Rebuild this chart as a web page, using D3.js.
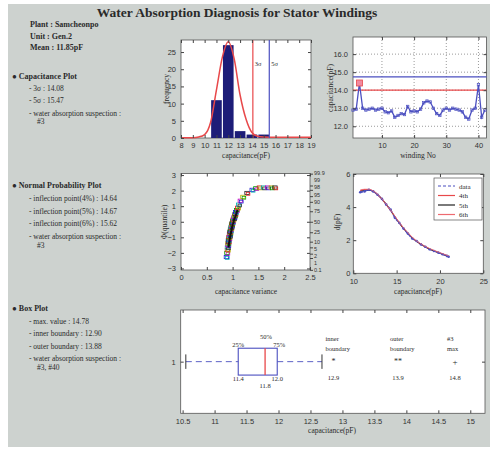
<!DOCTYPE html>
<html>
<head>
<meta charset="utf-8">
<script src="https://cdn.jsdelivr.net/npm/d3@7"></script>
<style>
  body { margin: 0; background: #fff; }
  svg text { font-family: "Liberation Serif", "DejaVu Serif", serif; fill: #2a2a2a; }
  .ax text { font-family: "Liberation Sans", Arial, sans-serif; font-size: 7.5px; fill: #333; }
  .ax path, .ax line { stroke: #444; }
  .pl { font-family: "Liberation Sans", Arial, sans-serif; font-size: 5.5px; fill: #333; }
</style>
</head>
<body>
<svg id="chart" width="496" height="450"></svg>
<script>
// histogram (capacitance plot)
const histCenters = [11, 12, 13, 14, 15];
const histCounts = [11, 27, 2, 1, 1];
const fitX = [8, 9, 9.5, 10, 10.5, 11, 11.5, 12, 12.5, 13, 13.5, 14, 14.5, 15, 16, 17, 18, 19];
const fitY = [0.1, 0.1, 0.3, 1, 4.5, 14, 23.5, 28, 23, 12.5, 5.5, 1.6, 0.5, 0.3, 0.2, 0.2, 0.2, 0.2];
const sigma3 = 14.08, sigma5 = 15.47;

// trend (winding No)
const windingNo = d3.range(1, 43);
const windingCap = [12.9, 12.95, 14.4, 13.0, 12.9, 12.95, 13.0, 12.9, 12.95, 13.0,
  12.8, 12.75, 12.85, 12.5, 12.6, 12.7, 12.65, 13.1, 12.8, 12.85,
  12.8, 12.95, 13.3, 13.4, 13.35, 13.0, 12.7, 12.6, 12.9, 13.0,
  12.9, 13.0, 12.95, 12.9, 12.8, 12.5, 12.4, 12.9, 13.0, 14.3, 12.5, 12.9];
const trendRed = 14.0, trendBlue = 14.74;
const trendTicks = [12, 13, 14, 15, 16];

// normal probability plot
const nppX = [0.88, 0.89, 0.90, 0.90, 0.91, 0.91, 0.92, 0.92, 0.93, 0.93, 0.94, 0.94, 0.95, 0.95,
  0.96, 0.96, 0.97, 0.97, 0.98, 0.98, 0.99, 1.00, 1.00, 1.01, 1.02, 1.03, 1.04, 1.05,
  1.06, 1.08, 1.10, 1.12, 1.15, 1.20, 1.28, 1.38, 1.45, 1.52, 1.60, 1.68, 1.75, 1.82];
const nppZ = [-2.27, -2.0, -1.8, -1.65, -1.5, -1.38, -1.27, -1.17, -1.07, -0.98, -0.9, -0.8, -0.72, -0.64,
  -0.56, -0.48, -0.4, -0.33, -0.25, -0.17, -0.1, -0.02, 0.06, 0.14, 0.22, 0.3, 0.4, 0.5,
  0.62, 0.75, 0.9, 1.1, 1.35, 1.6, 1.85, 2.05, 2.15, 2.2, 2.2, 2.2, 2.2, 2.2];
const probZ = [3.09, 2.33, 2.05, 1.645, 1.28, 0.674, 0, -0.674, -1.28, -1.645, -2.05, -2.33, -3.09];
const probLabels = ["99.9", "99", "98", "95", "90", "75", "50", "25", "10", "5", "2", "1", "0.1"];

// d vs capacitance
const dX = [10.8, 11.3, 11.8, 12.3, 12.8, 13.3, 13.8, 14.3, 14.8, 15.3, 15.8, 16.3, 16.8, 17.3, 17.8, 18.3, 18.8, 19.3, 19.8, 20.3, 20.8, 21.0];
const dData = [4.9, 4.95, 5.05, 4.95, 4.75, 4.5, 4.15, 3.85, 3.35, 3.05, 2.7, 2.4, 2.1, 1.95, 1.75, 1.6, 1.45, 1.35, 1.25, 1.15, 1.05, 1.0];
const d4th = [5.0, 5.05, 5.05, 4.95, 4.75, 4.48, 4.15, 3.8, 3.42, 3.05, 2.72, 2.42, 2.15, 1.93, 1.75, 1.6, 1.47, 1.36, 1.26, 1.16, 1.06, 1.02];
const d5th = [4.95, 5.0, 5.02, 4.95, 4.76, 4.5, 4.17, 3.82, 3.4, 3.05, 2.7, 2.41, 2.14, 1.93, 1.75, 1.6, 1.46, 1.35, 1.25, 1.15, 1.05, 1.0];
const dLegend = ["data", "4th", "5th", "6th"];

// box plot
const boxQ1 = 11.37, boxMed = 11.79, boxQ3 = 11.98;
const whiskerLo = 10.55, whiskerHi = 12.68;
const innerB = 12.86, outerB = 13.87, maxVal = 14.76;

// text blocks
const headerLines = ["Plant : Samcheonpo", "Unit : Gen.2", "Mean : 11.85pF"];
const capLines = ["- 3\u03c3 : 14.08", "- 5\u03c3 : 15.47", "- water absorption suspection :", "#3"];
const nppLines = ["- inflection point(4%) : 14.64", "- inflection point(5%) : 14.67", "- inflection point(6%) : 15.62", "- water absorption suspection :", "#3"];
const boxLines = ["- max. value : 14.78", "- inner boundary : 12.90", "- outer boundary : 13.88", "- water absorption suspection :", "#3, #40"];

const svg = d3.select("#chart");
const red = "#e8484a", blue = "#4b4fc0", navy = "#1d1d78";

svg.append("rect").attr("x", 8).attr("y", 4).attr("width", 482).attr("height", 443).attr("fill", "#cdd2cf");

svg.append("text").attr("x", 237).attr("y", 17).attr("text-anchor", "middle")
  .attr("font-size", 13.5).attr("font-weight", "bold").text("Water Absorption Diagnosis for Stator Windings");

headerLines.forEach((t, i) => svg.append("text").attr("x", 30).attr("y", 27 + i * 11.5)
  .attr("font-size", 8).attr("font-weight", "bold").text(t));

function block(title, lines, y0, dy) {
  svg.append("text").attr("x", 12).attr("y", y0).attr("font-size", 8).attr("font-weight", "bold").text("\u25cf " + title);
  lines.forEach((t, i) => {
    const last = i === lines.length - 1;
    svg.append("text").attr("x", last ? 37 : 29).attr("y", y0 + dy * (i + 1) - (last ? dy * 0.3 : 0))
      .attr("font-size", 7.5).text(t);
  });
}
block("Capacitance Plot", capLines, 79, 12.2);
block("Normal Probability Plot", nppLines, 188, 12.8);
block("Box Plot", boxLines, 311, 12.5);

// MATLAB-style axes box with inward ticks on all sides
function frame(x0, y0, x1, y1, xd, yd) {
  const x = d3.scaleLinear().domain(xd).range([x0, x1]);
  const y = d3.scaleLinear().domain(yd).range([y1, y0]);
  svg.append("rect").attr("x", x0).attr("y", y0).attr("width", x1 - x0).attr("height", y1 - y0)
    .attr("fill", "#fff").attr("stroke", "#555").attr("stroke-width", 0.8);
  return { x, y, x0, y0, x1, y1 };
}
function axes(p, xt, yt, xf, yf, ypad) {
  const g = svg.append("g").attr("class", "ax");
  g.append("g").attr("transform", `translate(0,${p.y1})`)
    .call(d3.axisBottom(p.x).tickValues(xt).tickFormat(xf).tickSizeInner(-3).tickSizeOuter(0).tickPadding(5));
  g.append("g").attr("transform", `translate(0,${p.y0})`)
    .call(d3.axisTop(p.x).tickValues(xt).tickFormat("").tickSizeInner(-3).tickSizeOuter(0));
  g.append("g").attr("transform", `translate(${p.x0},0)`)
    .call(d3.axisLeft(p.y).tickValues(yt).tickFormat(yf).tickSizeInner(-3).tickSizeOuter(0).tickPadding(ypad || 5));
  g.append("g").attr("transform", `translate(${p.x1},0)`)
    .call(d3.axisRight(p.y).tickValues(yt).tickFormat("").tickSizeInner(-3).tickSizeOuter(0));
  g.selectAll(".domain").remove();
  return g;
}
function label(x, y, t, rot) {
  const el = svg.append("text").attr("font-family", "Liberation Sans, Arial, sans-serif")
    .attr("font-size", 7.5).attr("text-anchor", "middle").attr("fill", "#333").text(t);
  if (rot) el.attr("transform", `translate(${x},${y}) rotate(-90)`);
  else el.attr("x", x).attr("y", y);
}

// ---- histogram ----
const h = frame(181, 40, 311, 138, [8, 19], [0, 28.5]);
svg.append("g").selectAll("rect").data(histCenters).join("rect")
  .attr("x", (d) => h.x(d - 0.45)).attr("width", h.x(8.9) - h.x(8))
  .attr("y", (d, i) => h.y(histCounts[i])).attr("height", (d, i) => h.y(0) - h.y(histCounts[i]))
  .attr("fill", navy);
svg.append("path").datum(fitX.map((d, i) => [d, fitY[i]]))
  .attr("d", d3.line().curve(d3.curveMonotoneX).x((d) => h.x(d[0])).y((d) => h.y(d[1])))
  .attr("fill", "none").attr("stroke", red).attr("stroke-width", 1.5);
[[sigma3, red], [sigma5, blue]].forEach(([v, c]) => svg.append("line")
  .attr("x1", h.x(v)).attr("x2", h.x(v)).attr("y1", h.y0).attr("y2", h.y1).attr("stroke", c).attr("stroke-width", 1.2));
svg.append("text").attr("x", h.x(sigma3) + 2).attr("y", 66).attr("font-size", 6.5).text("3\u03c3");
svg.append("text").attr("x", h.x(sigma5) + 2).attr("y", 66).attr("font-size", 6.5).text("5\u03c3");
axes(h, d3.range(8, 20), [0, 5, 10, 15, 20, 25], d3.format("d"), d3.format("d"));
label(246, 158, "capacitance(pF)");
label(169, 89, "frequency", true);

// ---- trend ----
const t = frame(353, 37, 486.5, 138, [1, 42.5], [11.35, 16.95]);
const grid = svg.append("g").attr("stroke", "#555").attr("stroke-width", 0.6).attr("stroke-dasharray", "1,2");
trendTicks.forEach((v) => grid.append("line").attr("x1", t.x0).attr("x2", t.x1).attr("y1", t.y(v)).attr("y2", t.y(v)));
[10, 20, 30, 40].forEach((v) => grid.append("line").attr("x1", t.x(v)).attr("x2", t.x(v)).attr("y1", t.y0).attr("y2", t.y1));
svg.append("line").attr("x1", t.x0).attr("x2", t.x1).attr("y1", t.y(trendBlue)).attr("y2", t.y(trendBlue)).attr("stroke", blue).attr("stroke-width", 1.2);
svg.append("line").attr("x1", t.x0).attr("x2", t.x1).attr("y1", t.y(trendRed)).attr("y2", t.y(trendRed)).attr("stroke", red).attr("stroke-width", 1.2);
svg.append("path").datum(windingNo.map((d, i) => [d, windingCap[i]]))
  .attr("d", d3.line().x((d) => t.x(d[0])).y((d) => t.y(d[1])))
  .attr("fill", "none").attr("stroke", blue).attr("stroke-width", 1.3);
svg.append("g").selectAll("rect").data(windingNo).join("rect")
  .attr("x", (d) => t.x(d) - 1.2).attr("y", (d, i) => t.y(windingCap[i]) - 1.2)
  .attr("width", 2.4).attr("height", 2.4).attr("fill", "none").attr("stroke", blue).attr("stroke-width", 0.7);
svg.append("rect").attr("x", t.x(3) - 3).attr("y", t.y(windingCap[2]) - 3).attr("width", 6).attr("height", 6)
  .attr("fill", "#f08aa0").attr("stroke", red).attr("stroke-width", 0.8);
axes(t, [10, 20, 30, 40], trendTicks, d3.format("d"), d3.format(".1f"));
label(418, 158, "winding No");
label(333, 88, "capacitance(pF)", true);

// ---- normal probability ----
const n = frame(181, 173.5, 310, 270, [0, 2.5], [-3.1, 3.1]);
const mColors = ["#2020d0", "#00a000", "#e02020", "#00b0b0", "#c000c0", "#b0b000", "#202020"];
const ng = svg.append("g");
nppX.forEach((v, i) => {
  const c = mColors[i % mColors.length];
  ng.append("rect").attr("x", n.x(v) - 2.2).attr("y", n.y(nppZ[i]) - 1.6).attr("width", 4.4).attr("height", 3.2)
    .attr("fill", "none").attr("stroke", c).attr("stroke-width", 0.8);
  ng.append("rect").attr("x", n.x(v + 0.02) - 1.8).attr("y", n.y(nppZ[i] - 0.06) - 1.4).attr("width", 3.6).attr("height", 2.8)
    .attr("fill", "none").attr("stroke", mColors[(i + 3) % mColors.length]).attr("stroke-width", 0.7);
});
svg.append("path").datum(nppX.slice(3, 30).map((d, i) => [d, nppZ[i + 3]]))
  .attr("d", d3.line().x((d) => n.x(d[0]) + 1).y((d) => n.y(d[1])))
  .attr("fill", "none").attr("stroke", "#111").attr("stroke-width", 2);
axes(n, [0, 0.5, 1, 1.5, 2, 2.5], [-3, -2, -1, 0, 1, 2, 3], d3.format("~g"), d3.format("d"));
// probability ticks on the right; labels nudged apart where they crowd
svg.append("g").attr("class", "ax").attr("transform", `translate(${n.x1},0)`)
  .call(d3.axisRight(n.y).tickValues(probZ).tickFormat("").tickSizeInner(3).tickSizeOuter(0))
  .select(".domain").remove();
const probPos = probZ.map((z) => n.y(z));
const mid = probPos.indexOf(n.y(0));
for (let i = mid - 1; i >= 0; i--) probPos[i] = Math.min(probPos[i], probPos[i + 1] - 7.2);
for (let i = mid + 1; i < probPos.length; i++) probPos[i] = Math.max(probPos[i], probPos[i - 1] + 7.2);
svg.append("g").selectAll("text").data(probLabels).join("text").attr("class", "pl")
  .attr("x", n.x1 + 4).attr("y", (d, i) => probPos[i] + 2).text((d) => d);
label(246, 294, "capacitance variance");
label(167, 222, "\u03a6(quantile)", true);

// ---- d vs capacitance ----
const dp = frame(353.3, 174, 483.3, 273.3, [10, 25], [0, 6]);
const lineD = (arr) => d3.line().curve(d3.curveMonotoneX).x((d, i) => dp.x(dX[i])).y((d) => dp.y(d))(arr);
svg.append("path").attr("d", lineD(d4th)).attr("fill", "none").attr("stroke", red).attr("stroke-width", 1.2);
svg.append("path").attr("d", lineD(d5th)).attr("fill", "none").attr("stroke", "#222").attr("stroke-width", 1);
svg.append("path").attr("d", lineD(dData)).attr("fill", "none").attr("stroke", blue).attr("stroke-width", 1.4).attr("stroke-dasharray", "3,2");
svg.append("g").selectAll("circle").data(dData).join("circle")
  .attr("cx", (d, i) => dp.x(dX[i])).attr("cy", (d) => dp.y(d)).attr("r", 1.3).attr("fill", blue);
svg.append("path").attr("d", lineD(d4th.map((v) => v + 0.03))).attr("fill", "none").attr("stroke", "#ee6a70").attr("stroke-width", 1).attr("opacity", 0.8);
axes(dp, [10, 15, 20, 25], [0, 2, 4, 6], d3.format("d"), d3.format("d"), 3);
label(418, 294, "capacitance(pF)");
label(340, 222, "d(pF)", true);
const lg = svg.append("g");
lg.append("rect").attr("x", 434).attr("y", 178).attr("width", 48).attr("height", 42).attr("fill", "#fff").attr("stroke", "#555").attr("stroke-width", 0.7);
const lgStyles = [[blue, "3,2"], [red, null], ["#222", null], ["#ee6a70", null]];
dLegend.forEach((s, i) => {
  const yy = 186 + i * 9.5;
  lg.append("line").attr("x1", 438).attr("x2", 455).attr("y1", yy).attr("y2", yy)
    .attr("stroke", lgStyles[i][0]).attr("stroke-width", 1.2).attr("stroke-dasharray", lgStyles[i][1]);
  lg.append("text").attr("x", 459).attr("y", yy + 2.5).attr("font-size", 7).text(s);
});

// ---- box plot ----
const b = frame(180.7, 310, 485, 413.3, [10.47, 15.23], [0.5, 1.5]);
const bx = svg.append("g");
bx.append("line").attr("x1", b.x(whiskerLo)).attr("x2", b.x(boxQ1)).attr("y1", b.y(1)).attr("y2", b.y(1))
  .attr("stroke", blue).attr("stroke-dasharray", "6,4").attr("stroke-width", 0.9);
bx.append("line").attr("x1", b.x(boxQ3)).attr("x2", b.x(whiskerHi)).attr("y1", b.y(1)).attr("y2", b.y(1))
  .attr("stroke", blue).attr("stroke-dasharray", "6,4").attr("stroke-width", 0.9);
bx.append("line").attr("x1", b.x(whiskerLo)).attr("x2", b.x(whiskerLo)).attr("y1", b.y(1.07)).attr("y2", b.y(0.93)).attr("stroke", "#333");
bx.append("line").attr("x1", b.x(whiskerHi)).attr("x2", b.x(whiskerHi)).attr("y1", b.y(1.07)).attr("y2", b.y(0.93)).attr("stroke", "#333");
bx.append("rect").attr("x", b.x(boxQ1)).attr("y", b.y(1.13)).attr("width", b.x(boxQ3) - b.x(boxQ1)).attr("height", b.y(0.87) - b.y(1.13))
  .attr("fill", "none").attr("stroke", blue).attr("stroke-width", 1.1);
bx.append("line").attr("x1", b.x(boxMed)).attr("x2", b.x(boxMed)).attr("y1", b.y(1.13)).attr("y2", b.y(0.87)).attr("stroke", red).attr("stroke-width", 1.3);
const smallT = (x, y, s, anchor) => bx.append("text").attr("x", x).attr("y", y).attr("font-size", 6.5).attr("text-anchor", anchor || "middle").text(s);
smallT(b.x(boxQ1), 347, "25%");
smallT(b.x(boxMed) + 1, 339, "50%");
smallT(b.x(boxQ3) + 2, 347, "75%");
smallT(b.x(boxQ1), 381, "11.4");
smallT(b.x(boxQ3), 381, "12.0");
smallT(b.x(boxMed), 388, "11.8");
// boundary markers
const mk = [[innerB, "inner", "boundary", "12.9"], [outerB, "outer", "boundary", "13.9"], [maxVal, "#3", "max", "14.8"]];
mk.forEach(([v, l1, l2, val], i) => {
  const xx = b.x(v);
  smallT(xx - 8, 341, l1, "start");
  smallT(xx - 8, 351, l2, "start");
  smallT(xx, 380, val);
  if (i < 2) {
    bx.append("text").attr("x", xx).attr("y", b.y(1) + 2.5).attr("font-size", 8).attr("text-anchor", "middle").attr("fill", blue).text(i === 0 ? "*" : "**");
  } else {
    bx.append("text").attr("x", xx).attr("y", b.y(1) + 3).attr("font-size", 9).attr("text-anchor", "middle").attr("fill", blue).text("+");
  }
});
axes(b, [10.5, 11, 11.5, 12, 12.5, 13, 13.5, 14, 14.5, 15], [1], d3.format("~g"), d3.format("d"));
label(332, 433, "capacitance(pF)");
</script>
</body>
</html>
